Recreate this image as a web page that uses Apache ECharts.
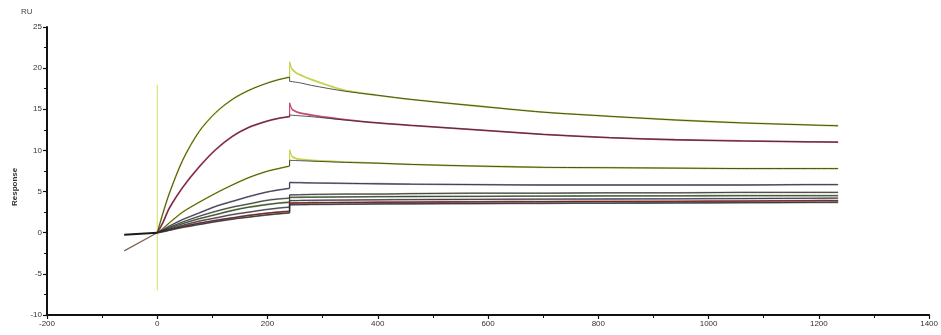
<!DOCTYPE html>
<html>
<head>
<meta charset="utf-8">
<script src="https://cdn.jsdelivr.net/npm/echarts@6/dist/echarts.min.js"></script>
<style>
html,body{margin:0;padding:0;background:#fff;}
#chart{width:941px;height:335px;}
</style>
</head>
<body>
<div id="chart"></div>
<script>
// ---- axis ticks ----
const xTicks = [-200, 0, 200, 400, 600, 800, 1000, 1200, 1400];
const yTicks = [-10, -5, 0, 5, 10, 15, 20, 25];

// ---- time grids (s) ----
const assocT = [0, 10, 22, 46, 76, 106, 136, 166, 196, 220, 240];
const dissocT = [240, 260, 280, 340, 400, 460, 580, 700, 820, 940, 1060, 1180, 1235];
const earlyT = [244, 252, 262, 280, 310, 340];

// ---- fitted curves (RU) ----
const fit1Assoc = [0, 2.3, 4.8, 8.8, 12.3, 14.6, 16.2, 17.3, 18.1, 18.6, 18.9];
const fit1Dissoc = [18.4, 18.2, 17.9, 17.2, 16.7, 16.2, 15.4, 14.65, 14.15, 13.7, 13.35, 13.1, 13.0];
const fit2Assoc = [0, 1.2, 3.0, 5.5, 8.0, 10.1, 11.7, 12.8, 13.5, 13.9, 14.1];
const fit2Dissoc = [14.3, 14.2, 14.1, 13.7, 13.35, 13.05, 12.5, 11.95, 11.55, 11.3, 11.15, 11.05, 11.0];
const fit3Assoc = [0, 0.5, 1.2, 2.5, 3.7, 4.8, 5.8, 6.7, 7.4, 7.8, 8.1];
const fit3Dissoc = [8.8, 8.75, 8.7, 8.55, 8.45, 8.3, 8.1, 7.95, 7.9, 7.85, 7.8, 7.8, 7.8];
const fit4Assoc = [0, 0.35, 0.8, 1.6, 2.4, 3.2, 3.8, 4.4, 4.9, 5.2, 5.4];
const fit4Dissoc = [6.1, 6.08, 6.05, 6.0, 5.95, 5.9, 5.85, 5.8, 5.8, 5.8, 5.8, 5.85, 5.85];
const fit5Assoc = [0, 0.3, 0.65, 1.3, 2.0, 2.6, 3.1, 3.5, 3.9, 4.1, 4.2];
const fit5Dissoc = [4.6, 4.62, 4.65, 4.7, 4.7, 4.75, 4.8, 4.8, 4.85, 4.85, 4.9, 4.9, 4.9];
const fit6Assoc = [0, 0.25, 0.55, 1.1, 1.7, 2.2, 2.7, 3.1, 3.4, 3.6, 3.7];
const fit6Dissoc = [4.3, 4.31, 4.32, 4.35, 4.38, 4.4, 4.42, 4.45, 4.47, 4.48, 4.5, 4.5, 4.5];
const fit7Assoc = [0, 0.2, 0.45, 0.9, 1.4, 1.8, 2.2, 2.5, 2.8, 3.0, 3.1];
const fit7Dissoc = [3.9, 3.92, 3.94, 3.97, 4.0, 4.02, 4.05, 4.08, 4.1, 4.12, 4.15, 4.18, 4.2];
const fit8Assoc = [0, 0.15, 0.35, 0.75, 1.15, 1.5, 1.8, 2.1, 2.35, 2.5, 2.6];
const fit8Dissoc = [3.6, 3.62, 3.64, 3.67, 3.7, 3.72, 3.75, 3.78, 3.8, 3.82, 3.85, 3.88, 3.9];
const fit9Assoc = [0, 0.12, 0.3, 0.65, 1.0, 1.35, 1.65, 1.9, 2.15, 2.3, 2.4];
const fit9Dissoc = [3.4, 3.42, 3.44, 3.47, 3.5, 3.52, 3.55, 3.58, 3.6, 3.62, 3.65, 3.68, 3.7];

// ---- measured-data spikes at end of injection ----
const spike1 = 20.8, early1 = [19.9, 19.4, 19.1, 18.6, 17.9, 17.3];
const spike2 = 15.8, early2 = [15.0, 14.7, 14.5, 14.3, 14.0, 13.75];
const spike3 = 10.1, early3 = [9.3, 9.0, 8.9, 8.8, 8.7, 8.6];

// ---- pre-injection baseline ----
const baseT = [-60, 0];
const baseBlack = [-0.25, 0];
const baseBrown = [-2.2, 0];
const injT = 0, injTop = 18, injBottom = -7;

const curves = [
  {a: fit1Assoc, d: fit1Dissoc, spike: spike1, early: early1, color: '#c8d24e'},
  {a: fit2Assoc, d: fit2Dissoc, spike: spike2, early: early2, color: '#c64c78'},
  {a: fit3Assoc, d: fit3Dissoc, spike: spike3, early: early3, color: '#c8d24e'},
  {a: fit4Assoc, d: fit4Dissoc, spike: null, early: null, color: '#9a92ba'},
  {a: fit5Assoc, d: fit5Dissoc, spike: null, early: null, color: '#a8a8a8'},
  {a: fit6Assoc, d: fit6Dissoc, spike: null, early: null, color: '#8fae70'},
  {a: fit7Assoc, d: fit7Dissoc, spike: null, early: null, color: '#a29cbc'},
  {a: fit8Assoc, d: fit8Dissoc, spike: null, early: null, color: '#cc4a4a'},
  {a: fit9Assoc, d: fit9Dissoc, spike: null, early: null, color: '#777777'}
];

const pair = (ts, vs) => ts.map((t, i) => [t, vs[i]]);
const series = [];
const lineS = (data, color, width, smooth, z) => ({
  type: 'line', data, symbol: 'none', smooth: smooth ? 0.3 : false,
  lineStyle: {color, width}, z, silent: true, animation: false
});

// coloured measured data (underneath)
curves.forEach(c => {
  series.push(lineS(pair(assocT, c.a), c.color, 1.8, true, 2));
  const aEnd = c.a[c.a.length - 1];
  if (c.spike !== null) {
    series.push(lineS([[240, aEnd], [240, c.spike], [earlyT[0], c.early[0]]], c.color, 1.2, false, 2));
    const dd = pair(earlyT, c.early).concat(pair(dissocT, c.d).filter(p => p[0] > 340));
    series.push(lineS(dd, c.color, 1.8, true, 2));
  } else {
    series.push(lineS([[240, aEnd], [240, c.d[0]]], c.color, 1.5, false, 2));
    series.push(lineS(pair(dissocT, c.d), c.color, 1.8, true, 2));
  }
});
// dark fitted curves on top
curves.forEach(c => {
  const aEnd = c.a[c.a.length - 1];
  series.push(lineS(pair(assocT, c.a), '#2a2a2a', 0.8, true, 3));
  series.push(lineS([[240, aEnd], [240, c.d[0]]], '#2a2a2a', 0.8, false, 3));
  series.push(lineS(pair(dissocT, c.d), '#2a2a2a', 0.8, true, 3));
});
// baseline and injection marker
series.push(lineS(pair(baseT, baseBrown), '#806450', 1.3, false, 3));
series.push(lineS(pair(baseT, baseBlack), '#1a1a1a', 2, false, 4));
series.push(lineS([[injT, injTop], [injT, injBottom]], '#d2de66', 1, false, 1));

const chart = echarts.init(document.getElementById('chart'), null, {renderer: 'canvas'});
const axisLabel = {fontSize: 8, color: '#333', fontFamily: 'Liberation Sans', formatter: v => String(v)};
chart.setOption({
  backgroundColor: '#fff',
  animation: false,
  grid: {left: 47, right: 6, top: 27, bottom: 20, containLabel: false},
  xAxis: {
    type: 'value', min: xTicks[0], max: xTicks[xTicks.length - 1], interval: 200,
    axisLine: {lineStyle: {color: '#111', width: 2}, onZero: false},
    axisTick: {length: 4, lineStyle: {color: '#111', width: 1.2}},
    minorTick: {show: true, splitNumber: 2, length: 3, lineStyle: {color: '#111', width: 1}},
    splitLine: {show: false},
    axisLabel: Object.assign({margin: 5}, axisLabel)
  },
  yAxis: {
    type: 'value', min: yTicks[0], max: yTicks[yTicks.length - 1], interval: 5,
    axisLine: {show: true, lineStyle: {color: '#111', width: 2}, onZero: false},
    axisTick: {show: true, length: 4, lineStyle: {color: '#111', width: 1.2}},
    minorTick: {show: true, splitNumber: 2, length: 3, lineStyle: {color: '#111', width: 1}},
    splitLine: {show: false},
    axisLabel: Object.assign({margin: 5}, axisLabel)
  },
  graphic: [
    {type: 'text', left: 21, top: 8, style: {text: 'RU', fontSize: 8, fill: '#444', fontFamily: 'Liberation Sans'}},
    {type: 'text', x: 11, y: 206, rotation: Math.PI / 2,
     style: {text: 'Response', fontSize: 8, fontWeight: 'bold', fill: '#333', fontFamily: 'Liberation Sans'}}
  ],
  series
});
</script>
</body>
</html>
